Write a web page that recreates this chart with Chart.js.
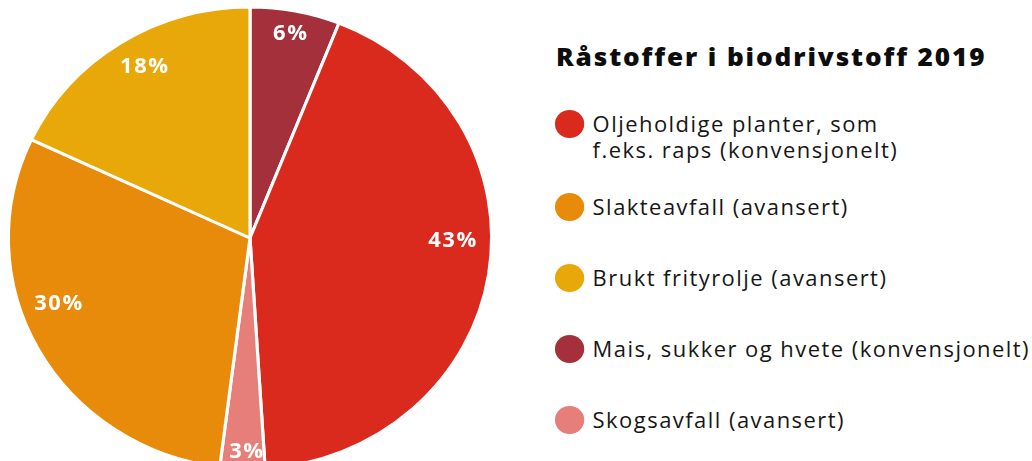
<!DOCTYPE html>
<html lang="no">
<head>
<meta charset="utf-8">
<title>Råstoffer i biodrivstoff 2019</title>
<script src="https://cdn.jsdelivr.net/npm/chart.js@4.4.1/dist/chart.umd.min.js"></script>
<style>
  html, body {
    margin: 0;
    padding: 0;
    background: #fff;
    width: 1032px;
    height: 461px;
    overflow: hidden;
  }
  #pieBox {
    position: absolute;
    left: 0;
    top: 0;
    width: 500px;
    height: 476px;
  }
  #legend {
    position: absolute;
    left: 556px;
    top: 0;
    width: 460px;
    height: 461px;
    transform: scaleX(1.046);
    transform-origin: 0 0;
    font-family: "Open Sans", sans-serif;
    color: #161616;
  }
  #legend h1 {
    position: absolute;
    left: 0;
    top: 44px;
    margin: 0;
    font-size: 25px;
    line-height: 25px;
    font-weight: 800;
    letter-spacing: 1.8px;
    white-space: nowrap;
    color: #0d0d0d;
  }
  .item {
    position: absolute;
    left: 0;
    font-size: 21px;
    line-height: 26px;
    font-weight: 500;
    letter-spacing: 1.4px;
  }
  .item .dot {
    position: absolute;
    left: -1px;
    top: -1px;
    width: 28px;
    height: 28px;
    border-radius: 50%;
  }
  .item .txt {
    margin-left: 35px;
    display: block;
    white-space: pre;
  }
</style>
</head>
<body>
<div id="pieBox"><canvas id="pie"></canvas></div>
<div id="legend">
  <h1 id="title"></h1>
</div>
<script>
// Råstoffer i biodrivstoff 2019, andel i prosent
const title = 'Råstoffer i biodrivstoff 2019';
const categories = [
  'Mais, sukker og hvete (konvensjonelt)',
  'Oljeholdige planter, som\nf.eks. raps (konvensjonelt)',
  'Skogsavfall (avansert)',
  'Slakteavfall (avansert)',
  'Brukt frityrolje (avansert)'
];
const shares = [6, 43, 3, 30, 18];
const colors = ['#a3303a', '#da2a1e', '#e67f7a', '#e98b0a', '#e8a80a'];
// order of the entries in the legend (indexes into categories)
const legendOrder = [1, 3, 4, 0, 2];

// where the percent labels sit: share of radius, and a small angle nudge (degrees)
const labelRadius = [0.9, 0.84, 0.925, 0.84, 0.86];
const labelNudge = [0, -8, -1, 9, 2];

const stretchX = 1.046;

// legend
document.getElementById('title').textContent = title;
const legendEl = document.getElementById('legend');
let y = 111;
legendOrder.forEach(i => {
  const item = document.createElement('div');
  item.className = 'item';
  item.style.top = y + 'px';
  const dot = document.createElement('span');
  dot.className = 'dot';
  dot.style.background = colors[i];
  const txt = document.createElement('span');
  txt.className = 'txt';
  txt.textContent = categories[i];
  item.appendChild(dot);
  item.appendChild(txt);
  legendEl.appendChild(item);
  const lines = categories[i].split('\n').length;
  y += 71 + (lines - 1) * 12;
});

// the pie is drawn a little wider than tall, and gets its percent labels
const pieExtras = {
  id: 'pieExtras',
  beforeDatasetsDraw(chart) {
    const ctx = chart.ctx;
    const arc = chart.getDatasetMeta(0).data[0];
    ctx.save();
    ctx.translate(arc.x, 0);
    ctx.scale(stretchX, 1);
    ctx.translate(-arc.x, 0);
  },
  afterDatasetsDraw(chart) {
    const ctx = chart.ctx;
    const meta = chart.getDatasetMeta(0);
    ctx.font = '700 21px "Open Sans", sans-serif';
    ctx.letterSpacing = '1.5px';
    ctx.fillStyle = '#ffffff';
    ctx.textAlign = 'center';
    ctx.textBaseline = 'middle';
    meta.data.forEach((a, i) => {
      const p = a.getProps(['x', 'y', 'startAngle', 'endAngle', 'outerRadius'], true);
      const mid = (p.startAngle + p.endAngle) / 2 + labelNudge[i] * Math.PI / 180;
      const r = p.outerRadius * labelRadius[i];
      ctx.fillText(shares[i] + '%', p.x + r * Math.cos(mid), p.y + r * Math.sin(mid));
    });
    ctx.restore();
  }
};

new Chart(document.getElementById('pie'), {
  type: 'pie',
  data: {
    labels: categories,
    datasets: [{
      data: shares,
      backgroundColor: colors,
      borderColor: '#ffffff',
      borderWidth: 3,
      radius: 231,
    }],
  },
  options: {
    responsive: true,
    maintainAspectRatio: false,
    animation: false,
    events: [],
    layout: { padding: 0 },
    plugins: {
      legend: { display: false },
      tooltip: { enabled: false },
    },
  },
  plugins: [pieExtras],
});
</script>
</body>
</html>
